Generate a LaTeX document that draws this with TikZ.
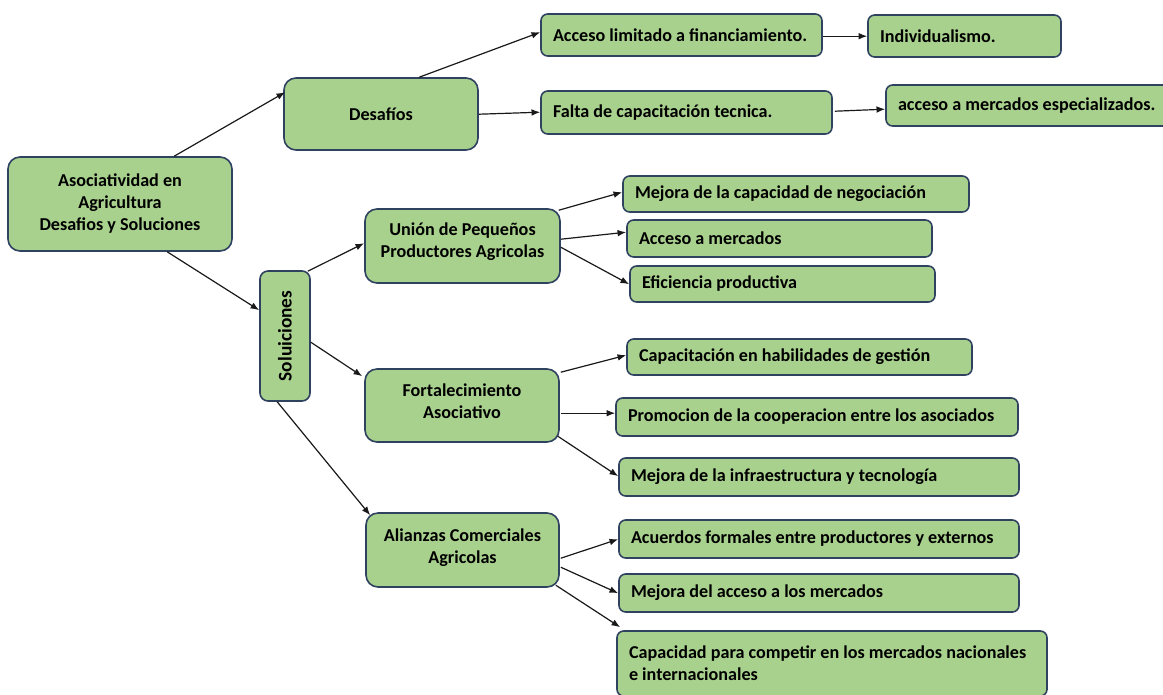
\documentclass[tikz,border=0pt]{standalone}
\usepackage{fontspec}
\setmainfont{Carlito}
\usetikzlibrary{arrows.meta,calc}
\definecolor{boxfill}{RGB}{169,209,142}
\definecolor{boxline}{RGB}{47,66,96}
\definecolor{arr}{RGB}{25,25,25}
\tikzset{
  box/.style={draw=boxline, fill=boxfill, line width=1.2pt, rounded corners=#1},
  box/.default=5pt,
  conn/.style={draw=arr, line width=0.9pt, -{Latex[length=6.5pt,width=5pt]}},
}
% centered box: name, x1, y1, x2, y2, text, corner radius
\newcommand\cbx[7]{%
  \pgfmathsetmacro\bxw{(#4-#2)*0.75}%
  \pgfmathsetmacro\bxh{(#5-#3)*0.75}%
  \node[box=#7, align=center, minimum width=\bxw pt, minimum height=\bxh pt, inner sep=0pt]
    (#1) at ({(#2+#4)/2},{(#3+#5)/2}) {#6};}
% left-aligned box
\newcommand\lbx[6]{%
  \pgfmathsetmacro\bxw{(#4-#2)*0.75}%
  \pgfmathsetmacro\bxh{(#5-#3)*0.75}%
  \pgfmathsetmacro\bxt{(#4-#2-24)*0.75}%
  \node[box=5pt, align=flush left, text width=\bxt pt, minimum width=\bxw pt, minimum height=\bxh pt, inner xsep=9pt, inner ysep=0pt]
    (#1) at ({(#2+#4)/2},{(#3+#5)/2}) {#6};}
\newcommand\twol[3]{\raisebox{#3}[0pt][0pt]{\begin{tabular}{@{}c@{}}#1\\#2\end{tabular}}}
\begin{document}
\begin{tikzpicture}[x=0.75pt,y=-0.75pt,font=\bfseries\fontsize{13.6}{16.5}\selectfont]
\useasboundingbox (0,0) rectangle (1163,694);
\cbx{root}{8}{157}{232}{251}{Asociatividad en\\Agricultura\\Desafios y Soluciones}{9pt}
\cbx{des}{284}{78}{478}{150}{Desafíos}{9pt}
\lbx{acc}{541}{14}{822}{56}{Acceso limitado a financiamiento.}
\lbx{ind}{868}{15}{1061}{57}{Individualismo.}
\lbx{fal}{541}{91}{832}{134}{Falta de capacitación tecnica.}
\lbx{esp}{886}{85}{1190}{126}{acceso a mercados especializados.}
\cbx{sol}{260}{271}{310}{401}{\rotatebox{90}{\fontsize{14.5}{16}\selectfont Soluiciones}}{6pt}
\cbx{uni}{365}{209}{560}{283}{\twol{Unión de Pequeños}{Productores Agricolas}{-0.6pt}}{9pt}
\lbx{neg}{623}{176}{969}{212}{Mejora de la capacidad de negociación}
\lbx{mer}{627}{220}{932}{257}{Acceso a mercados}
\lbx{efi}{630}{266}{935}{302}{Eficiencia productiva}
\cbx{fort}{365}{369}{559}{442}{\twol{Fortalecimiento}{Asociativo}{-1.8pt}}{9pt}
\lbx{cap}{627}{339}{972}{375}{Capacitación en habilidades de gestión}
\lbx{pro}{616}{398}{1018}{436}{Promocion de la cooperacion entre los asociados}
\lbx{inf}{619}{458}{1019}{496}{Mejora de la infraestructura y tecnología}
\cbx{ali}{366}{513}{559}{587}{\twol{Alianzas Comerciales}{Agricolas}{-2.2pt}}{9pt}
\lbx{acu}{619}{520}{1019}{558}{Acuerdos formales entre productores y externos}
\lbx{mej}{619}{574}{1019}{612}{Mejora del acceso a los mercados}
\lbx{comp}{617}{631}{1047}{696}{\fontsize{13.6}{18}\selectfont Capacidad para competir en los mercados nacionales\\e internacionales}

\draw[conn] ($(root.north west)+(167,0)$) -- ($(des.north west)+(2,15)$);
\draw[conn] ($(root.south west)+(160,0)$) -- ($(sol.north west)+(0,40)$);
\draw[conn] ($(des.north west)+(136,0)$) -- ($(acc.north west)+(0,19)$);
\draw[conn] ($(des.north east)+(0,37)$) -- ($(fal.north west)+(0,22)$);
\draw[conn] ($(acc.north east)+(0,23)$) -- ($(ind.north west)+(0,22)$);
\draw[conn] ($(fal.north east)+(2,21)$) -- ($(esp.north west)+(0,25)$);
\draw[conn] ($(sol.north east)+(-3,1)$) -- ($(uni.north west)+(0,35)$);
\draw[conn] ($(sol.north east)+(0,72)$) -- ($(fort.north west)+(-2,8)$);
\draw[conn] ($(sol.south west)+(18,0)$) -- ($(ali.north west)+(5,3)$);
\draw[conn] ($(uni.north east)+(-2,2)$) -- ($(neg.north west)+(0,17)$);
\draw[conn] ($(uni.north east)+(0,31)$) -- ($(mer.north west)+(0,13)$);
\draw[conn] ($(uni.north east)+(0,39)$) -- ($(efi.north west)+(0,19)$);
\draw[conn] ($(fort.north east)+(1,4)$) -- ($(cap.north west)+(0,17)$);
\draw[conn] ($(fort.north east)+(1,45)$) -- ($(pro.north west)+(0,16)$);
\draw[conn] ($(fort.north east)+(-2,68)$) -- ($(inf.north west)+(0,19)$);
\draw[conn] ($(ali.north east)+(1,46)$) -- ($(acu.north west)+(0,20)$);
\draw[conn] ($(ali.north east)+(1,55)$) -- ($(mej.north west)+(0,20)$);
\draw[conn] ($(ali.north east)+(-4,73)$) -- ($(comp.north west)+(4,-3)$);
\end{tikzpicture}
\end{document}
